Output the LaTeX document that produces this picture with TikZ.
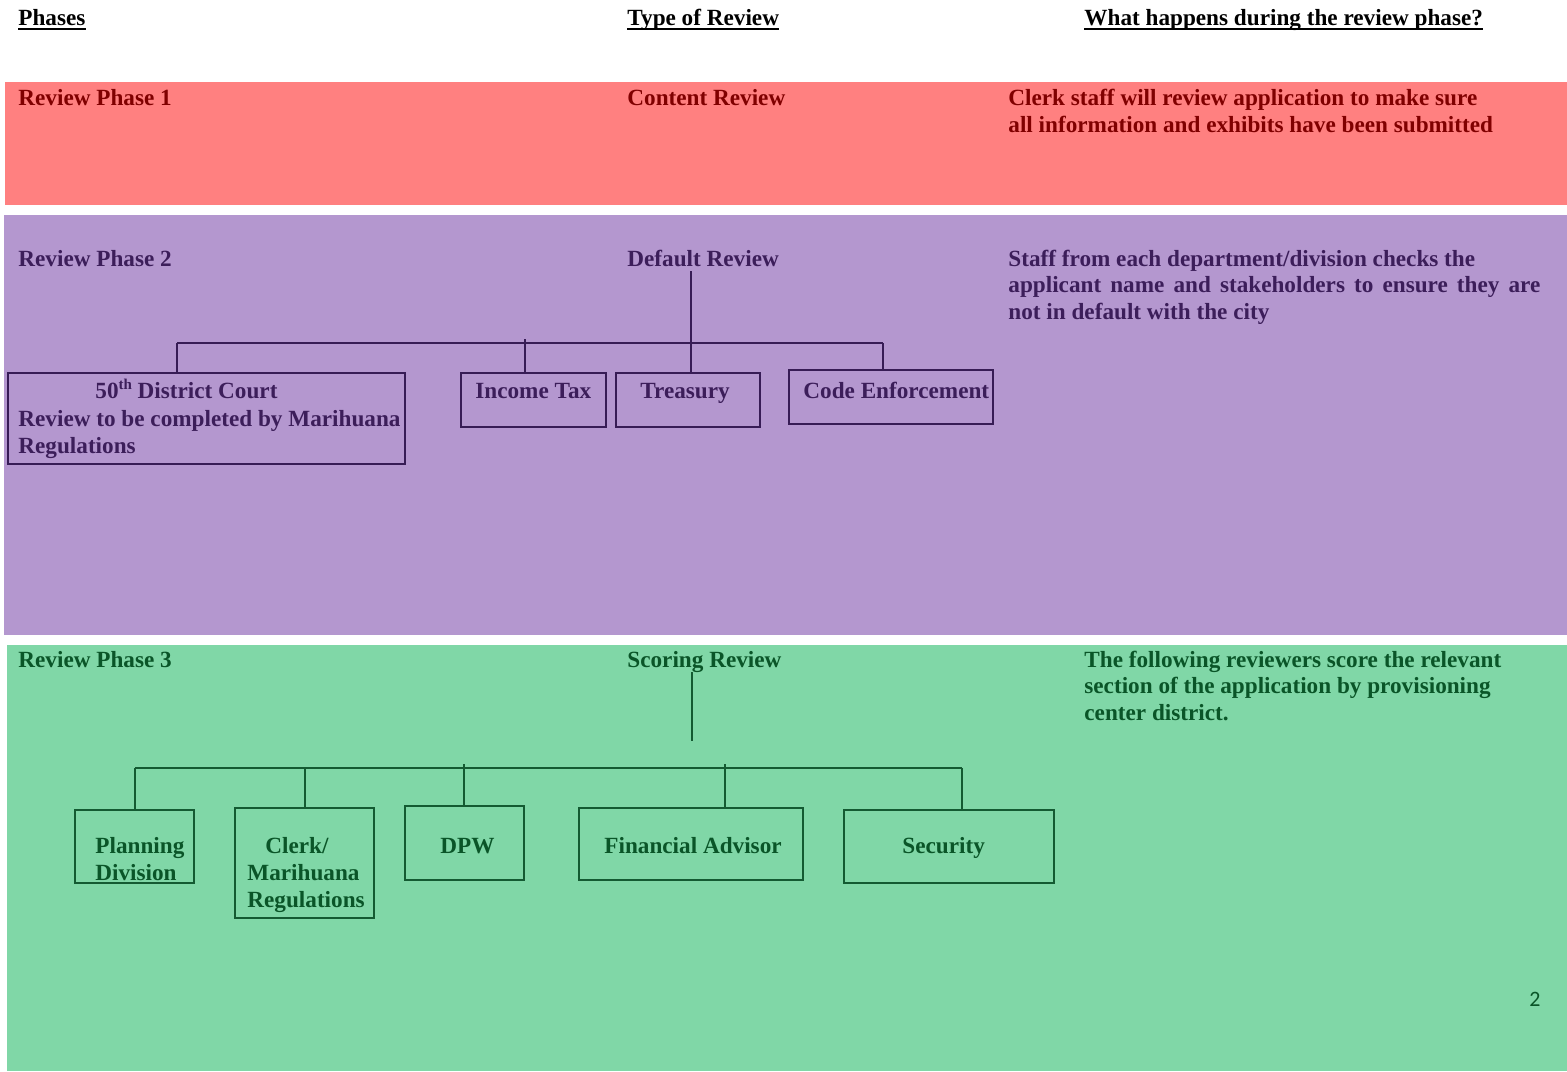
\documentclass[tikz,border=0pt]{standalone}
\usepackage{fontspec}
\setmainfont{Liberation Serif}
\newfontfamily\pagenumfont{Carlito}
\usetikzlibrary{fit}
\definecolor{bandred}{RGB}{255,128,128}
\definecolor{bandpurple}{RGB}{180,151,207}
\definecolor{bandgreen}{RGB}{128,215,167}
\definecolor{ponetext}{RGB}{128,0,0}
\definecolor{ptwotext}{RGB}{60,30,90}
\definecolor{ptwoline}{RGB}{55,28,85}
\definecolor{pthreetext}{RGB}{10,85,40}
\definecolor{pthreeline}{RGB}{20,90,50}
\newcommand\ml[1]{\begin{tabular}[t]{@{}l@{}}#1\end{tabular}}
\begin{document}
\begin{tikzpicture}[x=0.5pt,y=-0.5pt,
  txt/.style={inner sep=0, anchor=base west, font=\fontsize{11.6}{13.5}\selectfont\bfseries},
  hdr/.style={txt, text=black},
  pone/.style={txt, text=ponetext},
  ptwo/.style={txt, text=ptwotext},
  pthree/.style={txt, text=pthreetext},
  boxtwo/.style={draw=ptwoline, line width=0.75pt, inner sep=0},
  boxthree/.style={draw=pthreeline, line width=0.75pt, inner sep=0},
  linetwo/.style={draw=ptwoline, line width=0.75pt},
  linethree/.style={draw=pthreeline, line width=0.75pt},
  uline/.style={draw=black, line width=1pt}]
\useasboundingbox (0,0) rectangle (1567,1071);
% bands
\fill[bandred] (5,82) rectangle (1567,205);
\fill[bandpurple] (4,215) rectangle (1567,635);
\fill[bandgreen] (7,645) rectangle (1567,1071);
% headers
\node[hdr] (hPhases) at (18,25) {Phases};
\node[hdr] (hType) at (627,25) {Type of Review};
\node[hdr] (hWhat) at (1084,25) {What happens during the review phase?};
\foreach \h in {hPhases,hType,hWhat}
  \draw[uline] ([yshift=-2pt]\h.base west) -- ([yshift=-2pt]\h.base east);
% phase 1
\node[pone] (r1) at (18,105) {Review Phase 1};
\node[pone] (c1) at (627,105) {Content Review};
\node[pone] (d1) at (1008,105) {\ml{Clerk staff will review application to make sure\\all information and exhibits have been submitted}};
% phase 2
\node[ptwo] (r2) at (18,266) {Review Phase 2};
\node[ptwo] (c2) at (627,266) {Default Review};
\node[ptwo, font=\fontsize{11.6}{13.25}\selectfont\bfseries] (d2) at (1008,266) {\ml{Staff from each department/division checks the\\\makebox[266pt][s]{applicant name and stakeholders to ensure they are}\\not in default with the city}};
\node[boxtwo, fit={(8,373) (405,464)}] (b50) {};
\node[ptwo, font=\fontsize{11.6}{13.75}\selectfont\bfseries] (t50) at (18,398.5) {\ml{\hspace*{38.5pt}50{\fontsize{7.5}{8}\selectfont\raisebox{4.5pt}{th}} District Court\\Review to be completed by Marihuana\\Regulations}};
\node[boxtwo, fit={(461,373) (606,427)}] (bIT) {};
\node[ptwo] (tIT) at (475,398.5) {Income Tax};
\node[boxtwo, fit={(616,373) (760,427)}] (bTr) {};
\node[ptwo] (tTr) at (640,398.5) {Treasury};
\node[boxtwo, fit={(789,370) (993,424)}] (bCE) {};
\node[ptwo] (tCE) at (803,398.5) {Code Enforcement};
% phase 2 connectors
\coordinate (bustwoL) at (177,343);
\coordinate (bustwoR) at (883,343);
\coordinate (ktwoIT) at (525,339);
\coordinate (vtwotop) at (691,271);
\draw[linetwo] (bustwoL) -- (bustwoR);
\draw[linetwo] (bustwoL) -- (bustwoL |- b50.north);
\draw[linetwo] (ktwoIT) -- (ktwoIT |- bIT.north);
\draw[linetwo] (vtwotop) -- (vtwotop |- bTr.north);
\draw[linetwo] (bustwoR) -- (bustwoR |- bCE.north);
% phase 3
\node[pthree] (r3) at (18,667) {Review Phase 3};
\node[pthree] (c3) at (627,667) {Scoring Review};
\node[pthree, font=\fontsize{11.6}{13.25}\selectfont\bfseries] (d3) at (1084,667) {\ml{The following reviewers score the relevant\\section of the application by provisioning\\center district.}};
\node[boxthree, fit={(75,810) (194,883)}] (bPl) {};
\node[pthree] (tPl) at (95,853.5) {\ml{Planning\\Division}};
\node[boxthree, fit={(235,808) (374,918)}] (bCl) {};
\node[pthree] (tCl) at (247,853.5) {\ml{\hspace*{9pt}Clerk/\\Marihuana\\Regulations}};
\node[boxthree, fit={(405,806) (524,880)}] (bDP) {};
\node[pthree] (tDP) at (440,853.5) {DPW};
\node[boxthree, fit={(579,808) (803,880)}] (bFA) {};
\node[pthree] (tFA) at (604,853.5) {Financial Advisor};
\node[boxthree, fit={(844,810) (1054,883)}] (bSe) {};
\node[pthree] (tSe) at (902,853.5) {Security};
% phase 3 connectors
\coordinate (vthreetop) at (692,672);
\coordinate (vthreebot) at (692,741);
\coordinate (busthreeL) at (135,768);
\coordinate (busthreeR) at (962,768);
\coordinate (kthreeCl) at (305,768);
\coordinate (kthreeDP) at (464,764);
\coordinate (kthreeFA) at (725,764);
\draw[linethree] (vthreetop) -- (vthreebot);
\draw[linethree] (busthreeL) -- (busthreeR);
\draw[linethree] (busthreeL) -- (busthreeL |- bPl.north);
\draw[linethree] (kthreeCl) -- (kthreeCl |- bCl.north);
\draw[linethree] (kthreeDP) -- (kthreeDP |- bDP.north);
\draw[linethree] (kthreeFA) -- (kthreeFA |- bFA.north);
\draw[linethree] (busthreeR) -- (busthreeR |- bSe.north);
% page number
\node[inner sep=0, anchor=base west, font=\pagenumfont\fontsize{11}{12}\selectfont, text=pthreetext] (pg) at (1529,1006) {2};
\end{tikzpicture}
\end{document}
